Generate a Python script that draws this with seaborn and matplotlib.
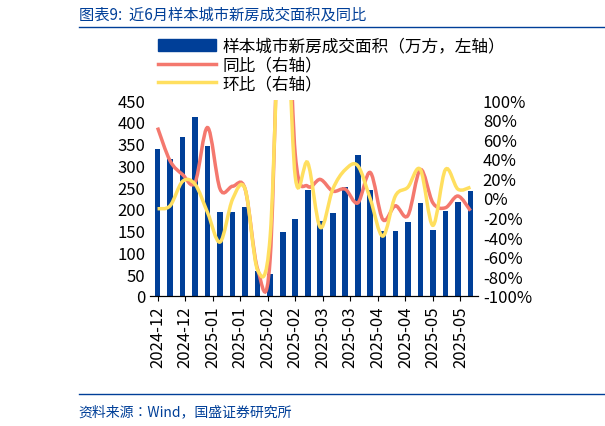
import numpy as np
import pandas as pd
import matplotlib
matplotlib.use("Agg")
import matplotlib.pyplot as plt
import seaborn as sns
from matplotlib import font_manager as fm
from matplotlib.path import Path
from matplotlib.patches import PathPatch
from matplotlib.lines import Line2D

cjk = [f for f in fm.fontManager.ttflist if "CJK" in f.name]
pref = [f for f in cjk if f.name.endswith("SC")] or cjk
if pref:
    fm.fontManager.addfont(pref[0].fname)
    fam = pref[0].name
else:
    fam = "DejaVu Sans"
plt.rcParams["font.family"] = [fam, "DejaVu Sans"]
plt.rcParams["font.sans-serif"] = [fam, "DejaVu Sans"]
plt.rcParams["axes.unicode_minus"] = False

area = [338, 315, 365, 412, 345, 193, 193, 205, 58, 50, 146, 176, 243, 171, 190,
        250, 324, 243, 148, 148, 169, 213, 152, 196, 216, 240]
yoy = [72, 38, 24, 16, 72, 9, 12, 9, -73, -62, 300, 45, 12, 19, 7, 9, -5, 26, -22,
       -8, -18, 29, -5, -10, 2, -13]
mom = [-11, -8, 17, 14, -15, -45, -1, 9, -74, -39, 250, 22, 36, -30, 9, 29, 33, -1,
       -39, 2, 11, 29, -28, 29, 9, 11]
tick_labels = ["2024-12", "2024-12", "2025-01", "2025-01", "2025-02", "2025-02",
               "2025-03", "2025-03", "2025-04", "2025-04", "2025-05", "2025-05"]

df = pd.DataFrame({"i": range(len(area)), "area": area})
BLUE = "#003f98"; RED = "#f4786e"; YEL = "#ffdf5f"

fig = plt.figure(figsize=(6.05, 4.27), dpi=100)
ax = fig.add_axes([0.248, 0.305, 0.542, 0.458])
sns.barplot(data=df, x="i", y="area", color=BLUE, width=0.45, ax=ax, saturation=1)
ax.set_ylim(0, 450); ax.set_xlim(-0.6, len(area) - 0.4)
ax.set_yticks(range(0, 451, 50))
ax.set_xlabel(""); ax.set_ylabel("")
ax.set_xticks(np.linspace(0, 24.2, 12))
ax.set_xticklabels(tick_labels, rotation=90, fontsize=12)
ax.tick_params(axis="y", labelsize=12)
ax2 = ax.twinx()
ax2.set_ylim(-100, 100)
ax2.set_yticks(range(-100, 101, 20))
ax2.set_yticklabels([f"{v}%" for v in range(-100, 101, 20)], fontsize=12)

def smooth(axx, ys, color):
    xs = np.arange(len(ys)); ys = np.array(ys, float)
    verts = [(xs[0], ys[0])]; codes = [Path.MOVETO]
    for k in range(len(xs) - 1):
        p0 = max(k - 1, 0); p3 = min(k + 2, len(xs) - 1)
        c1 = (xs[k] + (xs[k+1] - xs[p0]) / 6, ys[k] + (ys[k+1] - ys[p0]) / 6)
        c2 = (xs[k+1] - (xs[p3] - xs[k]) / 6, ys[k+1] - (ys[p3] - ys[k]) / 6)
        verts += [c1, c2, (xs[k+1], ys[k+1])]; codes += [Path.CURVE4] * 3
    axx.add_patch(PathPatch(Path(verts, codes), fill=False, edgecolor=color, lw=2.5, clip_on=True))

smooth(ax2, yoy, RED)
smooth(ax2, mom, YEL)
for a in (ax, ax2):
    for s in a.spines.values():
        s.set_visible(False)
    a.spines["bottom"].set_visible(True)
ax.tick_params(axis="y", length=0)
ax2.tick_params(axis="y", length=0)

handles = [plt.Rectangle((0, 0), 1, 1, color=BLUE), Line2D([], [], color=RED, lw=2.5),
           Line2D([], [], color=YEL, lw=2.5)]
fig.legend(handles, ["样本城市新房成交面积（万方，左轴）", "同比（右轴）", "环比（右轴）"],
           loc="upper left", bbox_to_anchor=(0.25, 0.925), frameon=False, fontsize=12,
           handlelength=3.5, labelspacing=0.1, borderaxespad=0, handletextpad=0.4)
fig.text(0.13, 0.955, "图表9:  近6月样本城市新房成交面积及同比", color=BLUE, fontsize=11)
fig.add_artist(Line2D([0.13, 1.0], [0.935, 0.935], color=BLUE, lw=1))
fig.add_artist(Line2D([0.13, 1.0], [0.075, 0.075], color=BLUE, lw=1))
fig.text(0.13, 0.025, "资料来源：Wind，国盛证券研究所", color=BLUE, fontsize=10)
fig.savefig("out.png", dpi=100)
